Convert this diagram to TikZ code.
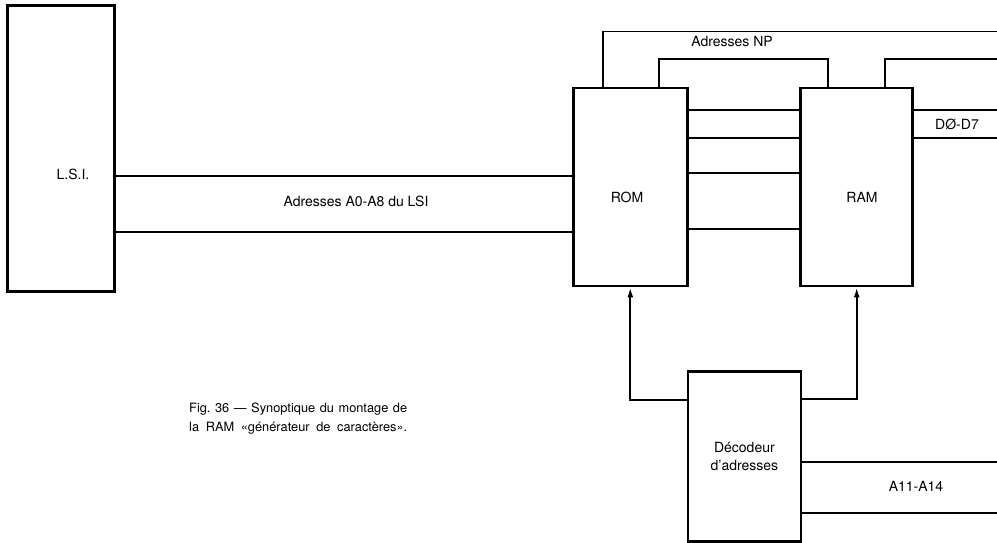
\documentclass[tikz,border=0pt]{standalone}
\usepackage{fontspec}
\setmainfont{TeX Gyre Heros}
\usetikzlibrary{arrows.meta,positioning,calc}

\begin{document}
\begin{tikzpicture}[x=1pt,y=-1pt,
  blk/.style={draw,line width=2.8pt,inner sep=0pt},
  bus/.style={line width=1.9pt},
  lbl/.style={font=\fontsize{14}{15}\selectfont,inner sep=0pt}]
\useasboundingbox (0,0) rectangle (997,543);
% boxes
\node[blk,minimum width=107pt,minimum height=286pt] (lsi) at (61,148.5) {};
\node[blk,minimum width=114pt,minimum height=198pt] (rom) at (630.3,187) {};
\node[blk,minimum width=112pt,minimum height=198pt] (ram) at (856.7,187) {};
\node[blk,minimum width=113pt,minimum height=170pt,align=center,font=\fontsize{14}{18}\selectfont] (dec) at (744.4,456.5) {Décodeur\\d’adresses};
\node[lbl] (lsit) at (73,174) {L.S.I.};
\node[lbl] (romt) at (627,197) {ROM};
\node[lbl] (ramt) at (862,197) {RAM};
\coordinate (edge) at (997,0);
% buses
\foreach \yy in {175.7,232.3} \draw[bus] (lsi.east |- 0,\yy) -- (rom.west |- 0,\yy);
\node[lbl] (a08) at (356,201) {Adresses A0-A8 du LSI};
\foreach \yy in {110,138.3,172.7,229.3} \draw[bus] (rom.east |- 0,\yy) -- (ram.west |- 0,\yy);
\foreach \yy in {110,138.3} \draw[bus] (ram.east |- 0,\yy) -- (edge |- 0,\yy);
\node[lbl] (dd) at (957,124) {DØ-D7};
\draw[bus] (rom.north -| 603,0) |- (edge |- 0,31.5);
\node[lbl] (np) at (732,42) {Adresses NP};
\draw[bus] (rom.north -| 659,0) -- (659,59.3) -| (ram.north -| 828,0);
\draw[bus] (ram.north -| 885,0) |- (edge |- 0,59);
\foreach \yy in {461.7,513.3} \draw[bus] (dec.east |- 0,\yy) -- (edge |- 0,\yy);
\node[lbl] (a11) at (916,486.5) {A11-A14};
% enables
\draw[bus,-{Latex[length=10pt,width=6pt]}] (dec.west |- 0,400) -| (rom.south);
\draw[bus,-{Latex[length=10pt,width=6pt]}] (dec.east |- 0,399) -| (ram.south);
% caption
\node[inner sep=0pt,text width=218pt,align=justify,anchor=base west,font=\fontsize{12.8}{19}\selectfont] (cap) at (189,412.5)
  {\parfillskip=0pt Fig.~36 — Synoptique du montage de\linebreak la RAM «générateur de caractères».\par};
\end{tikzpicture}
\end{document}
